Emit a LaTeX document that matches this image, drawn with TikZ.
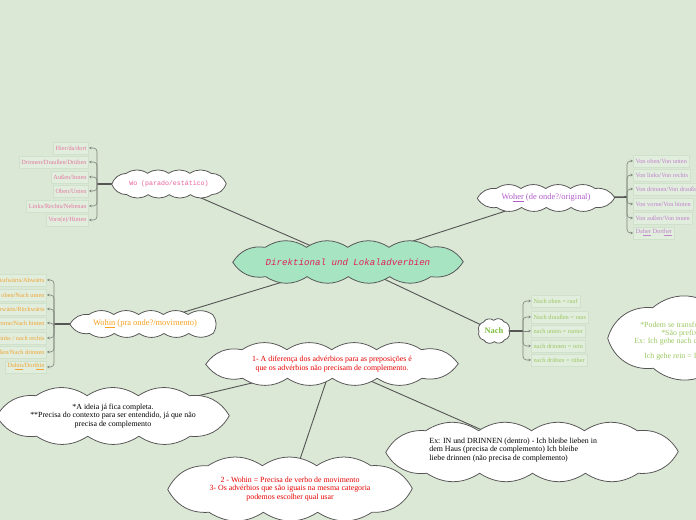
\documentclass[tikz,border=0pt]{standalone}
\usepackage{fontspec}
\setmainfont{Liberation Serif}
\setmonofont{Liberation Mono}
\usetikzlibrary{decorations.markings,arrows.meta}

\definecolor{bgcol}{HTML}{DCE8D6}
\definecolor{mainfill}{HTML}{A6E4C2}
\definecolor{edgegray}{HTML}{555555}
\definecolor{branchgray}{HTML}{7F857D}
\definecolor{leaffill}{HTML}{E1EDDD}
\definecolor{leafedge}{HTML}{D0E1CB}
\definecolor{maintext}{HTML}{E0205A}
\definecolor{wocol}{HTML}{E8609A}
\definecolor{woleaf}{HTML}{E27AA2}
\definecolor{wohercol}{HTML}{B05CC8}
\definecolor{woherleaf}{HTML}{C283CF}
\definecolor{wohincol}{HTML}{F5A01E}
\definecolor{wohinleaf}{HTML}{F0A535}
\definecolor{nachcol}{HTML}{7EBE3E}
\definecolor{nachleaf}{HTML}{9CC862}
\definecolor{notered}{HTML}{E60000}

\pgfdeclarelayer{background}
\pgfdeclarelayer{clouds}
\pgfsetlayers{background,clouds,main}

% Wolke um einen Knoten: Name, Zahl der Bögen, Eckradius, Füllung, Biegung
\newcommand\puffcloud[5]{%
  \begin{pgfonlayer}{clouds}
    \path[rounded corners=#3, decorate, decoration={markings,
      mark=between positions 0 and 1 step 1/#2 with
        {\coordinate (#1-\pgfkeysvalueof{/pgf/decoration/mark info/sequence number});}}]
      (#1.south west) rectangle (#1.north east);
    \filldraw[draw=edgegray, line width=0.55pt, fill=#4] (#1-1)
      \foreach \k in {2,...,#2} { to[bend left=#5] (#1-\k) }
      to[bend left=#5] (#1-1) -- cycle;
  \end{pgfonlayer}}

\begin{document}
\begin{tikzpicture}[
  cloudtext/.style={inner sep=0pt, align=center},
  leaf/.style={draw=leafedge, fill=leaffill, line width=0.4pt, inner xsep=1.6pt,
    inner ysep=0pt, minimum height=0.3cm, font=\fontsize{4.5}{5}\selectfont},
  branch/.style={draw=branchgray, line width=0.45pt, rounded corners=2.5pt,
    -{Stealth[length=1.8pt,width=1.8pt]}},
  stem/.style={draw=edgegray, line width=1.1pt},
  link/.style={draw=edgegray, line width=0.65pt},
  notefont/.style={font=\fontsize{5.6}{6.3}\selectfont}]
  \useasboundingbox (0,0) rectangle (17.4,13);
  \begin{pgfonlayer}{background}
    \fill[bgcol] (0,0) rectangle (17.4,13);
  \end{pgfonlayer}
  \clip (0,0) rectangle (17.4,13);

  % 中心节点
  \node[cloudtext, minimum width=5.75cm, minimum height=0.72cm, text=maintext,
    font=\ttfamily\itshape\fontsize{6.5}{7}\selectfont]
    (main) at (8.70,6.45) {Direktional und Lokaladverbien};
  \puffcloud{main}{12}{0.36cm}{mainfill}{33}

  % Wo
  \node[cloudtext, minimum width=2.85cm, minimum height=0.52cm, text=wocol,
    font=\ttfamily\fontsize{4.7}{5}\selectfont]
    (wo) at (4.225,8.40) {Wo (parado/estático)};
  \puffcloud{wo}{12}{0.26cm}{white}{33}
  \coordinate (wohub) at (2.425,8.40);
  \node[leaf, anchor=east, text=woleaf] (wo1) at (2.225,9.30) {Hier/da/dort};
  \node[leaf, anchor=east, text=woleaf] (wo2) at (2.225,8.95) {Drinnen/Draußen/Drüben};
  \node[leaf, anchor=east, text=woleaf] (wo3) at (2.225,8.575) {Außen/Innen};
  \node[leaf, anchor=east, text=woleaf] (wo4) at (2.225,8.225) {Oben/Unten};
  \node[leaf, anchor=east, text=woleaf] (wo5) at (2.225,7.85) {Links/Rechts/Nebenan};
  \node[leaf, anchor=east, text=woleaf] (wo6) at (2.225,7.50) {Vorn(e)/Hinten};
  \draw[branch] (wohub) |- (wo1);
  \draw[branch] (wohub) |- (wo2);
  \draw[branch] (wohub) |- (wo3);
  \draw[branch] (wohub) |- (wo4);
  \draw[branch] (wohub) |- (wo5);
  \draw[branch] (wohub) |- (wo6);

  % Woher
  \node[cloudtext, minimum width=3.42cm, minimum height=0.46cm, text=wohercol,
    font=\fontsize{6}{6.5}\selectfont]
    (woher) at (13.65,8.05) {Wo\underline{her} (de onde?/original)};
  \puffcloud{woher}{12}{0.23cm}{white}{33}
  \coordinate (woherhub) at (15.675,8.075);
  \node[leaf, anchor=west, text=woherleaf] (woher1) at (15.825,8.975) {Von oben/Von unten};
  \node[leaf, anchor=west, text=woherleaf] (woher2) at (15.825,8.625) {Von links/Von rechts};
  \node[leaf, anchor=west, text=woherleaf] (woher3) at (15.825,8.275) {Von drinnen/Von draußen};
  \node[leaf, anchor=west, text=woherleaf] (woher4) at (15.825,7.90) {Von vorne/Von hinten};
  \node[leaf, anchor=west, text=woherleaf] (woher5) at (15.825,7.55) {Von außen/Von innen};
  \node[leaf, anchor=west, text=woherleaf] (woher6) at (15.825,7.175) {Da\underline{her} Dort\underline{her}};
  \draw[branch] (woherhub) |- (woher1);
  \draw[branch] (woherhub) |- (woher2);
  \draw[branch] (woherhub) |- (woher3);
  \draw[branch] (woherhub) |- (woher4);
  \draw[branch] (woherhub) |- (woher5);
  \draw[branch] (woherhub) |- (woher6);

  % Wohin
  \node[cloudtext, minimum width=3.74cm, minimum height=0.46cm, text=wohincol,
    font=\fontsize{6}{6.5}\selectfont]
    (wohin) at (3.625,4.90) {Wo\underline{hin} (pra onde?/movimento)};
  \puffcloud{wohin}{13}{0.23cm}{white}{33}
  \coordinate (wohinhub) at (1.35,4.90);
  \node[leaf, anchor=east, text=wohinleaf] (wohin1) at (1.175,6.00) {Aufwärts/Abwärts};
  \node[leaf, anchor=east, text=wohinleaf] (wohin2) at (1.175,5.625) {Nach oben/Nach unten};
  \node[leaf, anchor=east, text=wohinleaf] (wohin3) at (1.175,5.275) {Vorwärts/Rückwärts};
  \node[leaf, anchor=east, text=wohinleaf] (wohin4) at (1.175,4.925) {Nach vorne/Nach hinten};
  \node[leaf, anchor=east, text=wohinleaf] (wohin5) at (1.175,4.55) {Nach links / nach rechts};
  \node[leaf, anchor=east, text=wohinleaf] (wohin6) at (1.175,4.20) {Nach draußen/Nach drinnen};
  \node[leaf, anchor=east, text=wohinleaf] (wohin7) at (1.175,3.825) {Da\underline{hin}/Dort\underline{hin}};
  \draw[branch] (wohinhub) |- (wohin1);
  \draw[branch] (wohinhub) |- (wohin2);
  \draw[branch] (wohinhub) |- (wohin3);
  \draw[branch] (wohinhub) |- (wohin4);
  \draw[branch] (wohinhub) |- (wohin5);
  \draw[branch] (wohinhub) |- (wohin6);
  \draw[branch] (wohinhub) |- (wohin7);

  % Nach
  \node[cloudtext, minimum width=0.74cm, minimum height=0.52cm, text=nachcol,
    font=\bfseries\fontsize{6}{6.5}\selectfont]
    (nach) at (12.35,4.725) {Nach};
  \puffcloud{nach}{8}{0.26cm}{white}{50}
  \coordinate (nachhub) at (13.075,4.725);
  \node[leaf, anchor=west, text=nachleaf] (nach1) at (13.275,5.475) {Nach oben = rauf};
  \node[leaf, anchor=west, text=nachleaf] (nach2) at (13.275,5.075) {Nach draußen = raus};
  \node[leaf, anchor=west, text=nachleaf] (nach3) at (13.275,4.725) {nach unten = runter};
  \node[leaf, anchor=west, text=nachleaf] (nach4) at (13.275,4.35) {nach drinnen = rein};
  \node[leaf, anchor=west, text=nachleaf] (nach5) at (13.275,4.00) {nach drüben = rüber};
  \draw[branch] (nachhub) |- (nach1);
  \draw[branch] (nachhub) |- (nach2);
  \draw[branch] (nachhub) -- (nach3);
  \draw[branch] (nachhub) |- (nach4);
  \draw[branch] (nachhub) |- (nach5);

  % Nach: Hinweis rechts
  \node[cloudtext, minimum width=4.6cm, minimum height=1.5cm] (nachnote) at (17.5,4.55) {};
  \puffcloud{nachnote}{7}{0.75cm}{white}{40}
  \node[notefont, text=nachleaf, anchor=west, inner sep=0pt] (nachnoteA) at (16.0,4.85) {*Podem se transformar em prefixos};
  \node[notefont, text=nachleaf, anchor=west, inner sep=0pt] (nachnoteB) at (16.525,4.65) {*São prefixos separáveis};
  \node[notefont, text=nachleaf, anchor=west, inner sep=0pt] (nachnoteC) at (15.85,4.45) {Ex: Ich gehe nach drinnen};
  \node[notefont, text=nachleaf, anchor=west, inner sep=0pt] (nachnoteD) at (16.1,4.075) {Ich gehe rein = Ich gehe nach drinnen};

  % Anmerkungen
  \node[cloudtext, notefont, minimum width=6.3cm, minimum height=0.7cm, text=notered]
    (note) at (8.30,3.90)
    {1- A diferença dos advérbios para as preposições é\\que os advérbios não precisam de complemento.};
  \puffcloud{note}{12}{0.35cm}{white}{33}
  \node[cloudtext, notefont, minimum width=5.8cm, minimum height=1.0cm]
    (ideia) at (2.825,2.60)
    {*A ideia já fica completa.\\**Precisa do contexto para ser entendido, já que não\\precisa de complemento};
  \puffcloud{ideia}{10}{0.5cm}{white}{33}
  \node[cloudtext, minimum width=7.3cm, minimum height=1.05cm] (excloud) at (13.30,1.70) {};
  \puffcloud{excloud}{12}{0.52cm}{white}{33}
  \node[notefont, align=left, inner sep=0pt] (extext) at (12.83,1.75)
    {Ex: IN und DRINNEN (dentro) - Ich bleibe lieben in\\dem Haus (precisa de complemento) Ich bleibe\\liebe drinnen (não precisa de complemento)};
  \node[cloudtext, notefont, minimum width=6.1cm, minimum height=1.15cm, text=notered]
    (wohinnote) at (7.25,0.775)
    {2 - Wohin = Precisa de verbo de movimento\\3- Os advérbios que são iguais na mesma categoria\\podemos escolher qual usar};
  \puffcloud{wohinnote}{10}{0.57cm}{white}{33}

  % Verbindungen
  \begin{pgfonlayer}{background}
    \draw[stem] (wo.center) -- (wohub);
    \draw[stem] (woher.center) -- (woherhub);
    \draw[stem] (wohin.center) -- (wohinhub);
    \draw[stem] (nach.center) -- (nachhub);
    \draw[link] (wo.center) -- (main.center);
    \draw[link] (woher.center) -- (main.center);
    \draw[link] (wohin.center) -- (main.center);
    \draw[link] (nach.center) -- (main.center);
    \draw[link] (note.center) -- (ideia.center);
    \draw[link] (note.center) -- (wohinnote.center);
    \draw[link] (note.center) -- (excloud.center);
  \end{pgfonlayer}
\end{tikzpicture}
\end{document}
